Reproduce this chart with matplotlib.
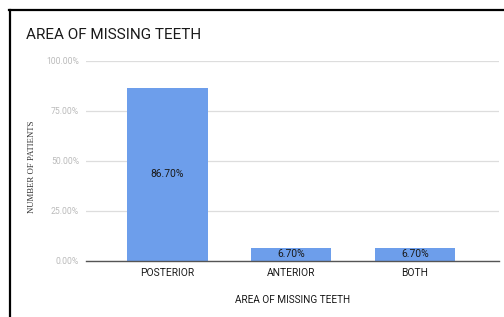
import matplotlib
matplotlib.use("Agg")
import matplotlib.pyplot as plt
from matplotlib.lines import Line2D

categories = ["POSTERIOR", "ANTERIOR", "BOTH"]
values = [86.7, 6.7, 6.7]
labels = ["86.70%", "6.70%", "6.70%"]
yticks = [0, 25, 50, 75, 100]
ytick_labels = ["0.00%", "25.00%", "50.00%", "75.00%", "100.00%"]

W, H = 504, 317
fig = plt.figure(figsize=(W / 100, H / 100), dpi=100)
fig.patch.set_facecolor("white")

ax = fig.add_axes([86 / W, 1 - 261 / H, (499 - 86) / W, 200 / H])
x = list(range(len(categories)))
ax.bar(x, values, width=0.65, color="#6d9eeb", zorder=3)
for xi, v, lab in zip(x, values, labels):
    ax.text(xi, v / 2, lab, ha="center", va="center", fontsize=7.4,
            color="#1a1a1a", family="Roboto", zorder=4)

ax.set_xlim(-0.66, 2.68)
ax.set_ylim(0, 100)
ax.set_yticks(yticks)
ax.set_yticklabels(ytick_labels, fontsize=6.2, color="#bbbbbb", family="Roboto")
ax.set_xticks(x)
ax.set_xticklabels(categories, fontsize=7.4, color="#1a1a1a", family="Roboto")
ax.tick_params(axis="both", length=0, pad=5)
ax.tick_params(axis="y", pad=5)
ax.grid(axis="y", color="#dddddd", linewidth=0.9, zorder=0)
for s in ["top", "right", "left"]:
    ax.spines[s].set_visible(False)
ax.spines["bottom"].set_color("#555555")
ax.spines["bottom"].set_linewidth(1.0)
ax.spines["bottom"].set_zorder(5)

ax.set_xlabel("AREA OF MISSING TEETH", fontsize=7.2, color="#1a1a1a",
              family="Roboto", labelpad=12)

fig.text(32 / W, 1 - 167 / H, "NUMBER OF PATIENTS", rotation=90, ha="center",
         va="center", fontsize=6.3, family="Liberation Serif", color="#333333")
fig.text(26 / W, 1 - 35 / H, "AREA OF MISSING TEETH", ha="left", va="center",
         fontsize=11, family="Roboto", color="#1a1a1a")

fig.add_artist(Line2D([9 / W, 1.0], [1 - 10 / H, 1 - 10 / H], color="black",
                      linewidth=1.6, transform=fig.transFigure))
fig.add_artist(Line2D([9.5 / W, 9.5 / W], [0, 1 - 10 / H], color="black",
                      linewidth=1.6, transform=fig.transFigure))

fig.savefig("out.png", dpi=100)
